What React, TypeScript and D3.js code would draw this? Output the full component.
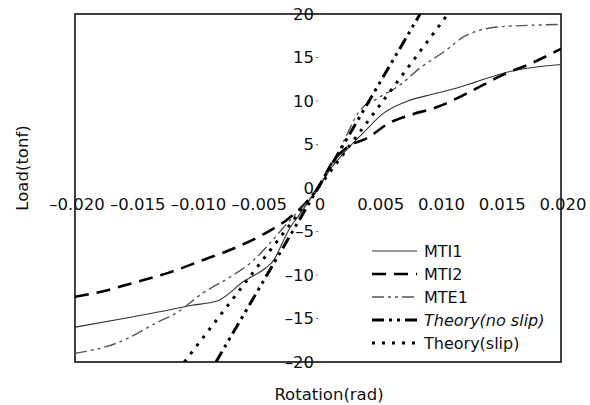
import React from "react";
import * as d3 from "d3";

// rotation (rad), load (tonf)
const mti1 = [
  [-0.02, -16], [-0.0152, -14.8], [-0.0122, -14.0], [-0.0105, -13.5], [-0.0083, -13.0],
  [-0.0072, -12.0], [-0.0062, -10.8], [-0.0052, -10.0], [-0.0043, -9.2], [-0.0036, -8.2],
  [-0.0031, -6.8], [-0.0024, -4.8], [-0.0015, -3], [0, 0], [0.0012, 2.5], [0.0021, 4.0],
  [0.0037, 6.3], [0.0054, 8.6], [0.0076, 10.1], [0.0095, 10.8], [0.0117, 11.6],
  [0.013, 12.2], [0.0158, 13.4], [0.02, 14.2]
];
const mti2 = [
  [-0.02, -12.5], [-0.0175, -11.8], [-0.0152, -10.9], [-0.0122, -9.7], [-0.0095, -8.3],
  [-0.0067, -6.8], [-0.0042, -5.1], [-0.0026, -3.7], [-0.0012, -2], [0, 0], [0.0012, 3],
  [0.0025, 4.8], [0.004, 5.7], [0.0059, 7.5], [0.0076, 8.4], [0.0098, 9.3], [0.0123, 10.9],
  [0.0152, 13], [0.0175, 14.3], [0.02, 16]
];
const mte1 = [
  [-0.02, -19], [-0.0165, -17.8], [-0.0133, -15.5], [-0.0116, -14.3], [-0.0095, -12.1],
  [-0.0072, -10.2], [-0.0053, -8.3], [-0.004, -6.4], [-0.0025, -4], [0, 0], [0.0018, 4.5],
  [0.0035, 9.0], [0.0049, 10.3], [0.0067, 11.8], [0.0084, 13.8], [0.0106, 15.9],
  [0.012, 17.4], [0.0135, 18.2], [0.0147, 18.5], [0.0175, 18.7], [0.02, 18.8]
];
const theoryNoSlip = [[-0.0084, -20], [0, 0], [0.0084, 20]];
const theorySlip = [[-0.011, -20], [0, 0], [0.0107, 20]];

const xTicks = [-0.02, -0.015, -0.01, -0.005, 0, 0.005, 0.01, 0.015, 0.02];
const xTickLabels = ["\u20130.020", "\u20130.015", "\u20130.010", "\u20130.005", "0", "0.005", "0.010", "0.015", "0.020"];
const yTicks = [20, 15, 10, 5, 0, -5, -10, -15, -20];

const seriesNames = ["MTI1", "MTI2", "MTE1", "Theory(no slip)", "Theory(slip)"];

// TODO styles could live in a config
const styles = [
  { stroke: "#333", width: 1.1, dash: null, italic: false, smooth: true },
  { stroke: "#000", width: 2.6, dash: "14 8", italic: false, smooth: true },
  { stroke: "#555", width: 1.4, dash: "12 4 3 4 3 4", italic: false, smooth: true },
  { stroke: "#000", width: 3, dash: "12 5 3 5 3 5", italic: true, smooth: false },
  { stroke: "#000", width: 3, dash: "3 7", italic: false, smooth: false }
];

export default function App() {
  const width = 590, height = 405;
  const margin = { top: 14, left: 75, right: 29, bottom: 43 };
  const innerWidth = width - margin.left - margin.right;
  const innerHeight = height - margin.top - margin.bottom;

  const xScale = d3.scaleLinear().domain([-0.02, 0.02]).range([0, innerWidth]);
  const yScale = d3.scaleLinear().domain([-20, 20]).range([innerHeight, 0]);

  const smoothLine = d3.line()
    .x(d => xScale(d[0]))
    .y(d => yScale(d[1]))
    .curve(d3.curveMonotoneX);
  const straightLine = d3.line()
    .x(d => xScale(d[0]))
    .y(d => yScale(d[1]));

  const allSeries = [mti1, mti2, mte1, theoryNoSlip, theorySlip];
  const font = "'DejaVu Sans', sans-serif";

  return (
    <svg width={width} height={height} style={{ position: "absolute", left: 0, top: 0, background: "#fff" }}>
      <defs>
        <clipPath id="plot-clip">
          <rect x={0} y={0} width={innerWidth} height={innerHeight} />
        </clipPath>
      </defs>
      <g transform={`translate(${margin.left},${margin.top})`} fontFamily={font}>
        {/* y tick labels next to the centre axis */}
        {yTicks.map(v => (
          <g key={"y" + v}>
            <text x={xScale(0) - 4} y={yScale(v)} dy="0.36em" textAnchor="end" fontSize={16.5} fill="#111">
              {v < 0 ? "\u2013" + Math.abs(v) : v}
            </text>
            <line x1={xScale(0) - 2} x2={xScale(0)} y1={yScale(v)} y2={yScale(v)} stroke="#777" strokeWidth={1} />
          </g>
        ))}
        {xTicks.map((v, i) => (
          <text key={"x" + i} x={xScale(v) + 2} y={yScale(0) + 22} textAnchor="middle" fontSize={16.5} fill="#111">
            {xTickLabels[i]}
          </text>
        ))}

        <rect x={0} y={0} width={innerWidth} height={innerHeight} fill="none" stroke="#111" strokeWidth={1.6} />

        <g clipPath="url(#plot-clip)">
          {allSeries.map((s, i) => (
            <path
              key={seriesNames[i]}
              d={(styles[i].smooth ? smoothLine : straightLine)(s)}
              fill="none"
              stroke={styles[i].stroke}
              strokeWidth={styles[i].width}
              strokeDasharray={styles[i].dash || undefined}
            />
          ))}
        </g>

        {/* legend */}
        {seriesNames.map((name, i) => {
          const ly = 237 + i * 23;
          return (
            <g key={"leg" + i} transform={`translate(297,${ly})`}>
              <line x1={0} x2={45} y1={0} y2={0}
                stroke={styles[i].stroke}
                strokeWidth={styles[i].width}
                strokeDasharray={styles[i].dash || undefined} />
              <text x={52} y={0} dy="0.36em" fontSize={16} fill="#111" fontStyle={styles[i].italic ? "italic" : "normal"}>
                {name}
              </text>
            </g>
          );
        })}
      </g>

      <text x={329} y={400} textAnchor="middle" fontSize={16.5} fontFamily={font} fill="#111">Rotation(rad)</text>
      <text transform="translate(28,168) rotate(-90)" textAnchor="middle" fontSize={16.5} fontFamily={font} fill="#111">Load(tonf)</text>
    </svg>
  );
}
